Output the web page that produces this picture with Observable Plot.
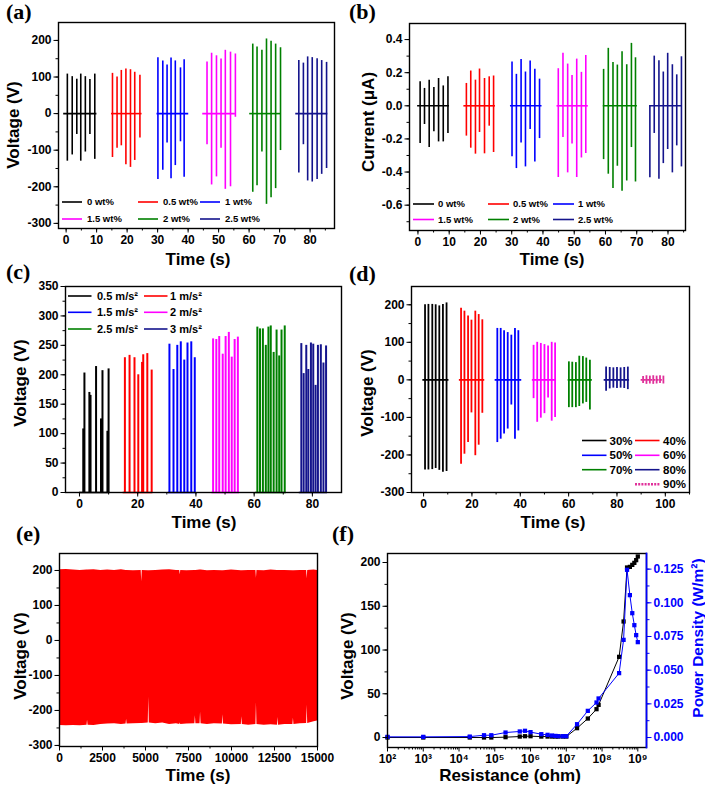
<!DOCTYPE html>
<html><head><meta charset="utf-8">
<script src="https://cdn.jsdelivr.net/npm/d3@7"></script>
<script src="https://cdn.jsdelivr.net/npm/@observablehq/plot@0.6"></script>
<style>
body{margin:0;background:#fff;}
#root{position:relative;width:705px;height:787px;overflow:hidden;background:#fff;}
</style></head><body><div id="root"></div>
<script>
// ---------- (a) voltage vs MWCNT wt% ----------
const aSeries = ["0 wt%", "0.5 wt%", "1 wt%", "1.5 wt%", "2 wt%", "2.5 wt%"];
const aColors = ["#000000", "#ff0000", "#0000ff", "#ff00ff", "#008000", "#14148c"];
const aStart = [-0.8, 14.9, 29.8, 44.8, 60.2, 75.3];
const aEnd = [10.1, 24.9, 40.2, 55.5, 70.5, 85.8];
const aTimes = [
  [0.4, 2.0, 3.5, 4.8, 6.3, 7.8, 9.4],
  [15.2, 16.7, 18.1, 19.6, 21.1, 22.5, 24.2],
  [30.1, 31.7, 33.1, 34.4, 35.8, 37.5, 38.7],
  [46.2, 47.7, 49.3, 50.8, 52.2, 53.9, 55.5],
  [61.2, 62.6, 64.2, 65.7, 67.2, 68.7, 70.3],
  [76.3, 77.8, 79.2, 80.7, 82.3, 83.8, 85.4]];
const aPos = [
  [108, 101, 94, 108, 101, 93, 108],
  [110, 100, 118, 122, 120, 113, 105],
  [153, 144, 133, 152, 144, 125, 147],
  [141, 165, 158, 149, 173, 168, 163],
  [190, 182, 173, 204, 198, 190, 180],
  [145, 138, 155, 153, 150, 145, 140]];
const aNeg = [
  [-130, -113, -57, -130, -105, -57, -125],
  [-120, -95, -88, -140, -147, -128, -67],
  [-180, -155, -80, -178, -142, -77, -174],
  [-85, -195, -173, -95, -207, -200, -10],
  [-215, -197, -105, -248, -230, -205, -101],
  [-162, -85, -184, -187, -180, -166, -150]];
const aXTicks = [0, 10, 20, 30, 40, 50, 60, 70, 80];
const aYTicks = [-300, -200, -100, 0, 100, 200];

// ---------- (b) current vs MWCNT wt% ----------
const bSeries = aSeries;
const bColors = aColors;
const bStart = [-0.1, 14.7, 29.6, 44.5, 59.3, 74.1];
const bEnd = [10.1, 24.8, 39.7, 54.5, 70.2, 84.4];
const bTimes = [
  [0.7, 2.1, 3.6, 5.1, 6.6, 8.1, 9.6],
  [15.5, 16.9, 18.4, 19.7, 21.3, 22.8, 24.2],
  [30.1, 31.5, 33.0, 34.4, 35.9, 37.4, 38.9],
  [44.9, 46.4, 47.9, 49.3, 50.8, 52.3, 53.7],
  [59.4, 60.9, 62.4, 63.8, 65.3, 66.8, 68.3, 69.6],
  [74.2, 75.6, 77.1, 78.5, 79.9, 81.4, 82.8, 84.3]];
const bPos = [
  [0.145, 0.105, 0.155, 0.11, 0.165, 0.12, 0.175],
  [0.135, 0.21, 0.155, 0.222, 0.165, 0.175, 0.18],
  [0.264, 0.19, 0.28, 0.204, 0.27, 0.22, 0.161],
  [0.224, 0.317, 0.252, 0.183, 0.282, 0.202, 0.304],
  [0.22, 0.347, 0.262, 0.246, 0.327, 0.248, 0.377, 0.29],
  [0.0, 0.3, 0.272, 0.204, 0.317, 0.248, 0.187, 0.296]];
const bNeg = [
  [-0.228, -0.113, -0.252, -0.157, -0.218, -0.218, -0.167],
  [-0.183, -0.256, -0.292, -0.161, -0.29, -0.123, -0.282],
  [-0.308, -0.379, -0.224, -0.369, -0.143, -0.34, -0.198],
  [-0.433, -0.192, -0.405, -0.23, -0.433, -0.315, -0.288],
  [-0.325, -0.413, -0.5, -0.365, -0.516, -0.454, -0.252, -0.46],
  [-0.435, -0.167, -0.443, -0.349, -0.264, -0.405, -0.242, -0.369]];
const bXTicks = [0, 10, 20, 30, 40, 50, 60, 70, 80];
const bYTicks = [-0.6, -0.4, -0.2, 0, 0.2, 0.4];

// ---------- (c) voltage vs acceleration ----------
const cSeries = ["0.5 m/s²", "1 m/s²", "1.5 m/s²", "2 m/s²", "2.5 m/s²", "3 m/s²"];
const cColors = aColors;
const cStart = [0.0, 15.0, 30.5, 45.5, 60.5, 75.5];
const cEnd = [10.5, 25.2, 40.0, 55.0, 71.0, 85.2];
const cTimes = [
  [1.3, 1.7, 3.4, 3.8, 5.7, 7.4, 7.9, 9.6, 10.0],
  [15.6, 17.2, 18.9, 20.2, 21.5, 21.9, 23.3, 24.8],
  [30.9, 32.3, 33.6, 34.8, 36.0, 37.1, 38.4, 39.6],
  [45.9, 47.0, 48.0, 49.2, 50.2, 51.3, 52.3, 53.3, 54.4],
  [61.1, 62.0, 63.0, 64.0, 64.9, 65.7, 66.7, 67.7, 68.6, 69.4, 70.5],
  [76.2, 77.0, 77.9, 78.6, 79.5, 80.3, 81.1, 81.9, 82.9, 83.8, 84.7]];
const cPeak = [
  [108, 203, 170, 165, 214, 125, 207, 104, 210],
  [229, 233, 229, 200, 221, 234, 236, 208],
  [252, 209, 250, 256, 225, 254, 256, 229],
  [261, 260, 265, 235, 265, 272, 230, 260, 264],
  [281, 278, 278, 250, 281, 283, 238, 276, 232, 276, 283],
  [253, 202, 250, 209, 254, 252, 182, 250, 251, 220, 249]];
const cXTicks = [0, 20, 40, 60, 80];
const cYTicks = [0, 50, 100, 150, 200, 250, 300, 350];

// ---------- (d) voltage vs humidity ----------
const dSeries = ["30%", "40%", "50%", "60%", "70%", "80%", "90%"];
const dColors = ["#000000", "#ff0000", "#0000ff", "#ff00ff", "#008000", "#14148c", "#e0309a"];
const dStart = [-0.3, 14.8, 29.6, 45.0, 59.8, 74.7, 90.0];
const dEnd = [10.5, 25.3, 40.6, 55.0, 69.8, 85.2, 99.6];
const dTimes = [
  [0.6, 2.0, 3.6, 5.0, 6.5, 8.0, 9.5],
  [15.5, 16.9, 18.4, 19.8, 21.4, 22.8, 24.3],
  [30.5, 31.9, 33.3, 34.8, 36.3, 37.8, 39.2],
  [45.5, 47.0, 48.5, 50.0, 51.5, 53.0, 54.4],
  [60.1, 61.5, 63.0, 64.4, 65.9, 67.3, 68.8],
  [75.5, 77.0, 78.5, 80.0, 81.5, 83.0, 84.5],
  [90.8, 92.2, 93.6, 95.0, 96.4, 97.8, 99.2]];
const dPos = [
  [200, 201, 201, 200, 197, 201, 205],
  [191, 183, 170, 159, 183, 174, 160],
  [137, 137, 131, 126, 119, 137, 131],
  [92, 100, 97, 94, 90, 100, 98],
  [48, 47, 46, 63, 62, 58, 52],
  [34, 33, 32, 33, 32, 33, 34],
  [9, 11, 10, 11, 10, 11, 10]];
const dNeg = [
  [-240, -240, -239, -236, -241, -246, -244],
  [-225, -198, -167, -88, -202, -174, -89],
  [-167, -158, -144, -131, -67, -158, -136],
  [-50, -113, -102, -90, -48, -110, -100],
  [-74, -74, -74, -71, -64, -60, -80],
  [-30, -24, -22, -23, -22, -23, -26],
  [-10, -12, -11, -12, -11, -10, -11]];
const dXTicks = [0, 20, 40, 60, 80, 100];
const dYTicks = [-300, -200, -100, 0, 100, 200];

// ---------- (e) long-term stability (envelope of the dense trace) ----------
const eTime = [0, 400, 800, 1200, 1600, 1630, 1660, 2000, 2400, 2800, 3200, 3600, 3870, 3900, 3930, 4300,
  4750, 4780, 4810, 5160, 5190, 5220, 5600, 6000, 6400, 6800, 6990, 7020, 7050, 7400, 7870, 7900, 7930,
  8170, 8200, 8230, 8600, 9000, 9470, 9500, 9530, 10000, 10570, 10600, 10630, 11000, 11420, 11450, 11480,
  11900, 12300, 12670, 12700, 12730, 13100, 13570, 13600, 13630, 14000, 14370, 14400, 14430, 14800, 15000];
const eUpper = [202, 203, 201, 200, 201, 201, 201, 202, 200, 201, 200, 202, 200, 200, 200, 199,
  200, 168, 200, 199, 199, 199, 200, 201, 202, 200, 200, 188, 200, 199, 200, 200, 200,
  201, 201, 201, 199, 200, 199, 199, 199, 201, 199, 199, 199, 200, 200, 178, 200,
  199, 201, 200, 200, 200, 200, 199, 199, 199, 200, 200, 176, 200, 201, 200];
const eLower = [-243, -244, -243, -244, -242, -228, -242, -243, -240, -239, -238, -240, -239, -225, -239, -238,
  -237, -237, -237, -236, -162, -236, -238, -236, -240, -238, -240, -236, -240, -239, -238, -215, -238,
  -238, -205, -238, -240, -238, -239, -212, -239, -241, -240, -218, -240, -242, -240, -178, -240,
  -242, -241, -242, -220, -242, -240, -240, -222, -240, -238, -237, -185, -237, -232, -230];
const eXTicks = [0, 2500, 5000, 7500, 10000, 12500, 15000];
const eYTicks = [-300, -200, -100, 0, 100, 200];

// ---------- (f) voltage & power density vs load resistance ----------
const fResistance = [1e2, 1e3, 2e4, 5e4, 8e4, 2e5, 5e5, 7e5, 1e6, 2e6, 3e6, 4e6, 5e6, 6e6, 8e6, 1e7,
  2e7, 4e7, 7e7, 8e7, 3e8, 4e8, 5e8, 6e8, 7e8, 8e8, 9e8, 1e9];
const fVoltage = [0, 0, 0, 0, 0, 0.4, 1.1, 1.5, 1.5, 1.1, 1.1, 1.1, 1.1, 1.1, 1.1, 1.1,
  10.7, 21.7, 32.4, 37.3, 92.2, 132.6, 194.3, 195, 197.3, 199.6, 202.7, 206.9];
const fPower = [0.0005, 0.0005, 0.0007, 0.0017, 0.0017, 0.0037, 0.0045, 0.005, 0.004, 0.0025, 0.002, 0.0015, 0.0012, 0.001, 0.001, 0.001,
  0.0099, 0.0198, 0.026, 0.029, 0.0478, 0.0725, 0.1245, 0.1057, 0.0923, 0.0834, 0.076, 0.0708];
const fXTicks = [1e2, 1e3, 1e4, 1e5, 1e6, 1e7, 1e8, 1e9];
const fYTicks = [0, 50, 100, 150, 200];
const fPTicks = [0, 0.025, 0.05, 0.075, 0.1, 0.125];
const fVDomain = [-11.4, 210.3];
const fPDomain = [-0.0074, 0.1366];

// ---------- helpers ----------
const root = document.getElementById("root");
const FONT = "'Liberation Sans', Arial, Helvetica, sans-serif";
const baseStyle = {background: "transparent", fontFamily: FONT, fontSize: "12px", fontWeight: "bold", color: "#000", overflow: "visible"};
function steps(a, b, s) { const r = []; for (let v = a; v <= b + 1e-9; v += s) r.push(+v.toFixed(6)); return r; }
function pulses(names, times, pos, neg) {
  return names.flatMap((s, i) => times[i].map((t, j) => ({s, t, pos: pos[i][j], neg: neg ? neg[i][j] : 0})));
}
function spans(names, start, end) { return names.map((s, i) => ({s, start: start[i], end: end[i]})); }
function axes(xTicks, xMinor, xFmt, yTicks, yMinor, yFmt) {
  return [
    Plot.axisX(xMinor, {tickSize: 2.5, fill: "none", label: null}),
    Plot.axisX(xTicks, {tickSize: 4.5, tickPadding: 2, tickFormat: xFmt, label: null}),
    Plot.axisY(yMinor, {tickSize: 2.5, fill: "none", label: null}),
    Plot.axisY(yTicks, {tickSize: 4.5, tickPadding: 2.5, tickFormat: yFmt, label: null})
  ];
}
function place(svg, left, top) {
  svg.style.position = "absolute"; svg.style.left = left + "px"; svg.style.top = top + "px";
  root.appendChild(svg);
}
const fmtInt = d => String(d);
const frame = () => Plot.frame({stroke: "#000", strokeWidth: 1.4});

// ---------- (a) ----------
place(Plot.plot({
  width: 350, height: 262, marginLeft: 58, marginRight: 16, marginTop: 22, marginBottom: 34,
  style: baseStyle,
  x: {domain: [-2.5, 88]}, y: {domain: [-314, 249]},
  color: {domain: aSeries, range: aColors},
  marks: [
    Plot.ruleY(spans(aSeries, aStart, aEnd), {y: () => 0, x1: "start", x2: "end", stroke: "s", strokeWidth: 1.6}),
    Plot.ruleX(pulses(aSeries, aTimes, aPos, aNeg), {x: "t", y1: "neg", y2: "pos", stroke: "s", strokeWidth: 1.6}),
    ...axes(aXTicks, steps(-0, 85, 5), fmtInt, aYTicks, steps(-300, 200, 50), fmtInt),
    frame()
  ]
}), 0, 0);

// ---------- (b) ----------
place(Plot.plot({
  width: 355, height: 262, marginLeft: 59, marginRight: 20, marginTop: 23, marginBottom: 32,
  style: baseStyle,
  x: {domain: [-2.7, 85.6]}, y: {domain: [-0.753, 0.497]},
  color: {domain: bSeries, range: bColors},
  marks: [
    Plot.ruleY(spans(bSeries, bStart, bEnd), {y: () => 0, x1: "start", x2: "end", stroke: "s", strokeWidth: 1.6}),
    Plot.ruleX(pulses(bSeries, bTimes, bPos, bNeg), {x: "t", y1: "neg", y2: "pos", stroke: "s", strokeWidth: 1.6}),
    ...axes(bXTicks, steps(0, 85, 5), fmtInt, bYTicks, steps(-0.7, 0.4, 0.1), d => d.toFixed(1)),
    frame()
  ]
}), 350, 0);

// ---------- (c) ----------
place(Plot.plot({
  width: 350, height: 262, marginLeft: 65, marginRight: 9, marginTop: 24, marginBottom: 32,
  style: baseStyle,
  x: {domain: [-4.8, 90]}, y: {domain: [0, 350]},
  color: {domain: cSeries, range: cColors},
  marks: [
    Plot.ruleY(spans(cSeries, cStart, cEnd), {y: () => 0, x1: "start", x2: "end", stroke: "s", strokeWidth: 1.6}),
    Plot.ruleX(pulses(cSeries, cTimes, cPeak, null), {x: "t", y1: "neg", y2: "pos", stroke: "s", strokeWidth: 2}),
    ...axes(cXTicks, steps(0, 80, 10), fmtInt, cYTicks, steps(0, 350, 25), fmtInt),
    frame()
  ]
}), 0, 262);

// ---------- (d) ----------
const dGroups = spans(dSeries, dStart, dEnd);
place(Plot.plot({
  width: 355, height: 262, marginLeft: 61, marginRight: 16, marginTop: 24, marginBottom: 32,
  style: baseStyle,
  x: {domain: [-5, 110]}, y: {domain: [-300, 248.7]},
  color: {domain: dSeries, range: dColors},
  marks: [
    Plot.ruleY(dGroups.filter(g => g.s !== "90%"), {y: () => 0, x1: "start", x2: "end", stroke: "s", strokeWidth: 1.8}),
    Plot.ruleY(dGroups.filter(g => g.s === "90%"), {y: () => 0, x1: "start", x2: "end", stroke: "s", strokeWidth: 1.8, strokeDasharray: "2,1.2"}),
    Plot.ruleX(pulses(dSeries, dTimes, dPos, dNeg), {x: "t", y1: "neg", y2: "pos", stroke: "s", strokeWidth: 1.8}),
    ...axes(dXTicks, steps(-0, 110, 10), fmtInt, dYTicks, steps(-300, 200, 50), fmtInt),
    frame()
  ]
}), 350, 262);

// ---------- (e) ----------
place(Plot.plot({
  width: 350, height: 262, marginLeft: 59, marginRight: 33, marginTop: 29, marginBottom: 40,
  style: baseStyle,
  x: {domain: [0, 15000]}, y: {domain: [-303, 248.5]},
  marks: [
    Plot.areaY(eTime.map((t, i) => ({t, hi: eUpper[i], lo: eLower[i]})), {x: "t", y1: "lo", y2: "hi", fill: "#ff0000"}),
    ...axes(eXTicks, steps(0, 15000, 1250), fmtInt, eYTicks, steps(-300, 200, 50), fmtInt),
    frame()
  ]
}), 0, 524);

// ---------- (f) ----------
const fK = (fVDomain[1] - fVDomain[0]) / (fPDomain[1] - fPDomain[0]);
const pToV = p => fVDomain[0] + (p - fPDomain[0]) * fK;
const vToP = v => (v - fVDomain[0]) / fK + fPDomain[0];
const fRows = fResistance.map((r, i) => ({r, v: fVoltage[i], p: fPower[i]}));
const fMinor = [];
for (let k = 2; k <= 8; k++) for (let m = 2; m <= 9; m++) fMinor.push(m * Math.pow(10, k));
const sup = {"2": "²", "3": "³", "4": "⁴", "5": "⁵", "6": "⁶", "7": "⁷", "8": "⁸", "9": "⁹"};
const BLUE = "#0000ff";
place(Plot.plot({
  width: 370, height: 262, marginLeft: 52, marginRight: 59, marginTop: 29, marginBottom: 39,
  style: baseStyle,
  x: {type: "log", domain: [100, 1.75e9]}, y: {domain: fVDomain},
  marks: [
    Plot.line(fRows, {x: "r", y: "v", stroke: "#000", strokeWidth: 1}),
    Plot.dot(fRows, {x: "r", y: "v", symbol: "square", fill: "#000", r: 2.4}),
    Plot.line(fRows, {x: "r", y: d => pToV(d.p), stroke: BLUE, strokeWidth: 1}),
    Plot.dot(fRows, {x: "r", y: d => pToV(d.p), symbol: "square", fill: BLUE, r: 2.4}),
    Plot.axisX(fMinor, {tickSize: 2.5, fill: "none", label: null}),
    Plot.axisX(fXTicks, {tickSize: 4.5, tickPadding: 2, tickFormat: d => "10" + sup[String(Math.round(Math.log10(d)))], label: null}),
    Plot.axisY(steps(0, 200, 25), {tickSize: 2.5, fill: "none", label: null}),
    Plot.axisY(fYTicks, {tickSize: 4.5, tickPadding: 2.5, tickFormat: fmtInt, label: null}),
    Plot.axisY(steps(0, 0.125, 0.0125).map(pToV), {anchor: "right", tickSize: 2.5, fill: "none", stroke: BLUE, label: null}),
    Plot.axisY(fPTicks.map(pToV), {anchor: "right", tickSize: 4.5, tickPadding: 2.5, color: BLUE, tickFormat: d => Math.abs(vToP(d)).toFixed(3), label: null}),
    frame(),
    Plot.frame({anchor: "right", stroke: BLUE, strokeWidth: 1.7})
  ]
}), 335, 524);

// ---------- overlay: panel letters, axis titles, legends ----------
const ov = d3.select(root).append("svg")
  .attr("width", 705).attr("height", 787)
  .style("position", "absolute").style("left", "0px").style("top", "0px")
  .style("overflow", "visible").style("pointer-events", "none");

const panelLabels = ["(a)", "(b)", "(c)", "(d)", "(e)", "(f)"];
const panelLabelPos = [[6, 19], [349, 19], [6, 279], [349, 281], [16, 541], [332, 541]];
panelLabels.forEach((t, i) => ov.append("text").attr("x", panelLabelPos[i][0]).attr("y", panelLabelPos[i][1])
  .attr("font-family", "'Liberation Serif', 'Times New Roman', serif").attr("font-weight", "bold")
  .attr("font-size", 22).text(t));

const titles = [
  {t: "Voltage (V)", x: 13, y: 125, r: true},
  {t: "Time (s)", x: 198, y: 265},
  {t: "Current (μA)", x: 368, y: 122, r: true},
  {t: "Time (s)", x: 552, y: 265},
  {t: "Voltage (V)", x: 20, y: 383, r: true},
  {t: "Time (s)", x: 204, y: 528},
  {t: "Voltage (V)", x: 367, y: 393, r: true},
  {t: "Time (s)", x: 553, y: 528},
  {t: "Voltage (V)", x: 20, y: 656, r: true},
  {t: "Time (s)", x: 198, y: 781},
  {t: "Voltage (V)", x: 347, y: 656, r: true},
  {t: "Resistance (ohm)", x: 510, y: 781},
  {t: "Power Density (W/m²)", x: 697, y: 638, r: true, c: BLUE, s: 15.5}
];
titles.forEach(d => {
  const el = ov.append("text").attr("text-anchor", "middle")
    .attr("font-family", FONT).attr("font-weight", "bold").attr("font-size", d.s || 17)
    .attr("fill", d.c || "#000").text(d.t);
  if (d.r) el.attr("x", d.x).attr("y", d.y).attr("dy", "0.36em").attr("transform", `rotate(-90,${d.x},${d.y})`);
  else el.attr("x", d.x).attr("y", d.y);
});

function legend(names, colors, lineX, lineLen, textX, rowY, ncol, size, dashedName) {
  names.forEach((n, i) => {
    let col = i % ncol, row = Math.floor(i / ncol);
    if (n === dashedName) { col = 1; }
    const y = rowY[row];
    const ln = ov.append("line").attr("x1", lineX[col]).attr("x2", lineX[col] + lineLen)
      .attr("y1", y).attr("y2", y).attr("stroke", colors[i]).attr("stroke-width", 1.6);
    if (n === dashedName) ln.attr("stroke-dasharray", "2,1.2").attr("stroke-width", 2.5);
    ov.append("text").attr("x", textX[col]).attr("y", y).attr("dy", "0.36em")
      .attr("font-family", FONT).attr("font-weight", "bold").attr("font-size", size).text(n);
  });
}
legend(aSeries, aColors, [62, 138, 200], 20, [87, 163, 225], [202, 219], 3, 9.5);
legend(bSeries, bColors, [413, 488, 553], 21, [438, 513, 578], [204, 219.5], 3, 9.5);
legend(cSeries, cColors, [68, 144], 23.5, [97, 170], [296, 312.3, 329], 2, 11);
legend(dSeries, dColors, [582, 635], 24.5, [609.5, 663], [440.5, 455.3, 469.7, 484.3], 2, 11.5, "90%");
</script></body></html>
